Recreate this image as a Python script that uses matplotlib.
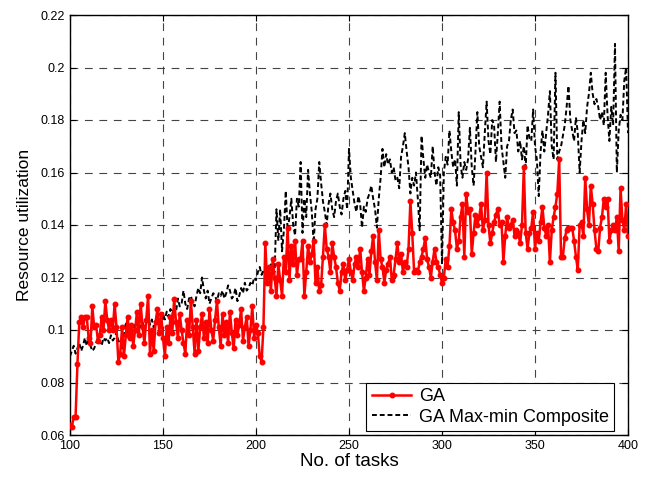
import numpy as np
import matplotlib
matplotlib.use("Agg")
import matplotlib.pyplot as plt

plt.rcParams['font.family'] = ['Liberation Sans', 'DejaVu Sans']

tasks = list(range(100, 401))

ga = [
    0.064, 0.063, 0.067, 0.067, 0.087, 0.103, 0.105, 0.101, 0.105, 0.105,
    0.097, 0.095, 0.109, 0.101, 0.102, 0.096, 0.098, 0.105, 0.100, 0.111,
    0.104, 0.100, 0.104, 0.100, 0.110, 0.101, 0.088, 0.091, 0.101, 0.090,
    0.098, 0.105, 0.097, 0.102, 0.094, 0.100, 0.107, 0.098, 0.110, 0.101,
    0.095, 0.104, 0.113, 0.091, 0.100, 0.092, 0.103, 0.108, 0.099, 0.106,
    0.097, 0.090, 0.101, 0.095, 0.105, 0.099, 0.112, 0.103, 0.097, 0.106,
    0.100, 0.095, 0.091, 0.104, 0.098, 0.111, 0.101, 0.091, 0.104, 0.092,
    0.101, 0.106, 0.097, 0.103, 0.095, 0.108, 0.100, 0.096, 0.104, 0.111,
    0.101, 0.094, 0.106, 0.098, 0.103, 0.095, 0.107, 0.099, 0.093, 0.104,
    0.098, 0.102, 0.108, 0.096, 0.101, 0.105, 0.094, 0.100, 0.109, 0.097,
    0.102, 0.099, 0.090, 0.088, 0.101, 0.133, 0.118, 0.124, 0.115, 0.127,
    0.120, 0.113, 0.125, 0.119, 0.113, 0.128, 0.122, 0.139, 0.119, 0.132,
    0.125, 0.134, 0.121, 0.127, 0.127, 0.134, 0.113, 0.122, 0.132, 0.126,
    0.129, 0.134, 0.118, 0.124, 0.115, 0.117, 0.128, 0.140, 0.131, 0.128,
    0.122, 0.133, 0.128, 0.124, 0.118, 0.115, 0.122, 0.125, 0.119, 0.123,
    0.127, 0.122, 0.119, 0.125, 0.128, 0.124, 0.131, 0.122, 0.115, 0.120,
    0.127, 0.121, 0.130, 0.136, 0.126, 0.119, 0.138, 0.127, 0.124, 0.118,
    0.123, 0.125, 0.128, 0.119, 0.121, 0.127, 0.133, 0.126, 0.129, 0.122,
    0.126, 0.124, 0.131, 0.149, 0.137, 0.122, 0.123, 0.122, 0.126, 0.128,
    0.131, 0.135, 0.127, 0.124, 0.120, 0.126, 0.131, 0.126, 0.124, 0.121,
    0.118, 0.120, 0.127, 0.124, 0.132, 0.146, 0.141, 0.138, 0.131, 0.134,
    0.143, 0.148, 0.128, 0.152, 0.145, 0.146, 0.129, 0.137, 0.144, 0.140,
    0.143, 0.148, 0.138, 0.142, 0.160, 0.140, 0.133, 0.137, 0.141, 0.144,
    0.146, 0.140, 0.141, 0.126, 0.136, 0.143, 0.139, 0.140, 0.142, 0.136,
    0.138, 0.137, 0.133, 0.140, 0.162, 0.137, 0.131, 0.137, 0.139, 0.145,
    0.131, 0.137, 0.134, 0.141, 0.147, 0.139, 0.136, 0.140, 0.126, 0.138,
    0.143, 0.147, 0.152, 0.165, 0.128, 0.128, 0.135, 0.138, 0.139, 0.139,
    0.139, 0.134, 0.128, 0.123, 0.140, 0.141, 0.136, 0.158, 0.146, 0.140,
    0.155, 0.148, 0.138, 0.131, 0.130, 0.139, 0.143, 0.150, 0.147, 0.150,
    0.134, 0.138, 0.140, 0.138, 0.143, 0.130, 0.154, 0.142, 0.138, 0.148,
    0.136,
]

ga_maxmin = [
    0.090, 0.092, 0.094, 0.091, 0.093, 0.095, 0.092, 0.094, 0.097, 0.094,
    0.096, 0.094, 0.092, 0.093, 0.095, 0.097, 0.096, 0.094, 0.097, 0.096,
    0.097, 0.095, 0.098, 0.096, 0.097, 0.099, 0.096, 0.095, 0.093, 0.098,
    0.103, 0.098, 0.101, 0.099, 0.100, 0.102, 0.099, 0.104, 0.101, 0.103,
    0.100, 0.104, 0.106, 0.102, 0.104, 0.101, 0.103, 0.105, 0.101, 0.103,
    0.106, 0.104, 0.107, 0.105, 0.108, 0.106, 0.109, 0.107, 0.112, 0.109,
    0.110, 0.115, 0.110, 0.108, 0.112, 0.113, 0.110, 0.109, 0.113, 0.116,
    0.114, 0.120, 0.115, 0.112, 0.115, 0.110, 0.112, 0.114, 0.113, 0.111,
    0.114, 0.113, 0.115, 0.112, 0.114, 0.117, 0.115, 0.112, 0.113, 0.116,
    0.111, 0.113, 0.116, 0.114, 0.118, 0.115, 0.116, 0.118, 0.117, 0.120,
    0.119, 0.122, 0.124, 0.121, 0.123, 0.121, 0.124, 0.122, 0.125, 0.123,
    0.122, 0.146, 0.134, 0.146, 0.130, 0.138, 0.153, 0.138, 0.143, 0.150,
    0.140, 0.136, 0.150, 0.147, 0.164, 0.137, 0.150, 0.143, 0.161, 0.152,
    0.145, 0.133, 0.146, 0.150, 0.164, 0.156, 0.149, 0.145, 0.140, 0.148,
    0.152, 0.146, 0.143, 0.149, 0.152, 0.147, 0.144, 0.150, 0.153, 0.146,
    0.169, 0.158, 0.153, 0.148, 0.145, 0.151, 0.148, 0.139, 0.147, 0.145,
    0.150, 0.152, 0.155, 0.150, 0.146, 0.139, 0.150, 0.158, 0.169, 0.162,
    0.167, 0.163, 0.165, 0.160, 0.162, 0.157, 0.158, 0.154, 0.166, 0.170,
    0.175, 0.168, 0.162, 0.152, 0.158, 0.155, 0.160, 0.150, 0.138, 0.174,
    0.165, 0.158, 0.163, 0.160, 0.158, 0.170, 0.160, 0.155, 0.162, 0.159,
    0.125, 0.160, 0.166, 0.163, 0.176, 0.168, 0.162, 0.165, 0.155, 0.183,
    0.163, 0.158, 0.164, 0.161, 0.165, 0.177, 0.162, 0.155, 0.168, 0.183,
    0.170, 0.166, 0.162, 0.175, 0.187, 0.172, 0.167, 0.180, 0.178, 0.164,
    0.175, 0.187, 0.170, 0.164, 0.158, 0.170, 0.172, 0.180, 0.184, 0.175,
    0.176, 0.168, 0.172, 0.165, 0.170, 0.162, 0.178, 0.173, 0.172, 0.184,
    0.170, 0.165, 0.151, 0.168, 0.176, 0.168, 0.175, 0.182, 0.191, 0.170,
    0.165, 0.198, 0.165, 0.168, 0.170, 0.174, 0.178, 0.185, 0.193, 0.180,
    0.176, 0.172, 0.181, 0.175, 0.160, 0.172, 0.180, 0.175, 0.185, 0.190,
    0.198, 0.190, 0.186, 0.188, 0.185, 0.180, 0.183, 0.178, 0.198, 0.182,
    0.172, 0.185, 0.178, 0.209, 0.160, 0.176, 0.182, 0.180, 0.195, 0.200,
    0.175,
]

xticks = [100, 150, 200, 250, 300, 350, 400]
yticks = [0.06, 0.08, 0.1, 0.12, 0.14, 0.16, 0.18, 0.2, 0.22]
ytick_labels = ['0.06', '0.08', '0.1', '0.12', '0.14', '0.16', '0.18', '0.2', '0.22']

fig = plt.figure(figsize=(6.56, 4.80), dpi=100)
ax = fig.add_axes([70/656, 1 - 435/480, 558/656, 420/480])

ax.plot(tasks, ga, color='#ff0000', linewidth=1.8, marker='.', markersize=6.5,
        label='GA', zorder=3)
ax.plot(tasks, ga_maxmin, color='black', linewidth=1.4, linestyle=(0, (2.5, 1.5)),
        label='GA Max-min Composite', zorder=2)

ax.set_xlim(100, 400)
ax.set_ylim(0.06, 0.22)
ax.set_xticks(xticks)
ax.set_yticks(yticks)
ax.set_yticklabels(ytick_labels)
ax.tick_params(direction='in', top=True, right=True, labelsize=9, length=4, width=0.8)
ax.grid(True, color='#444444', linestyle=(0, (7, 6)), linewidth=0.8)
for s in ax.spines.values():
    s.set_linewidth(1.0)

ax.set_xlabel('No. of tasks', fontsize=13.5, labelpad=1)
ax.set_ylabel('Resource utilization', fontsize=12.5, labelpad=6)

leg = ax.legend(loc='lower right', bbox_to_anchor=(0.975, 0.0095), fontsize=13,
                frameon=True, fancybox=False, framealpha=1, edgecolor='black',
                handlelength=2.2, borderpad=0.3, labelspacing=0.2, handletextpad=0.4,
                borderaxespad=0)
leg.get_frame().set_linewidth(0.8)

fig.savefig('out.png', dpi=100)
